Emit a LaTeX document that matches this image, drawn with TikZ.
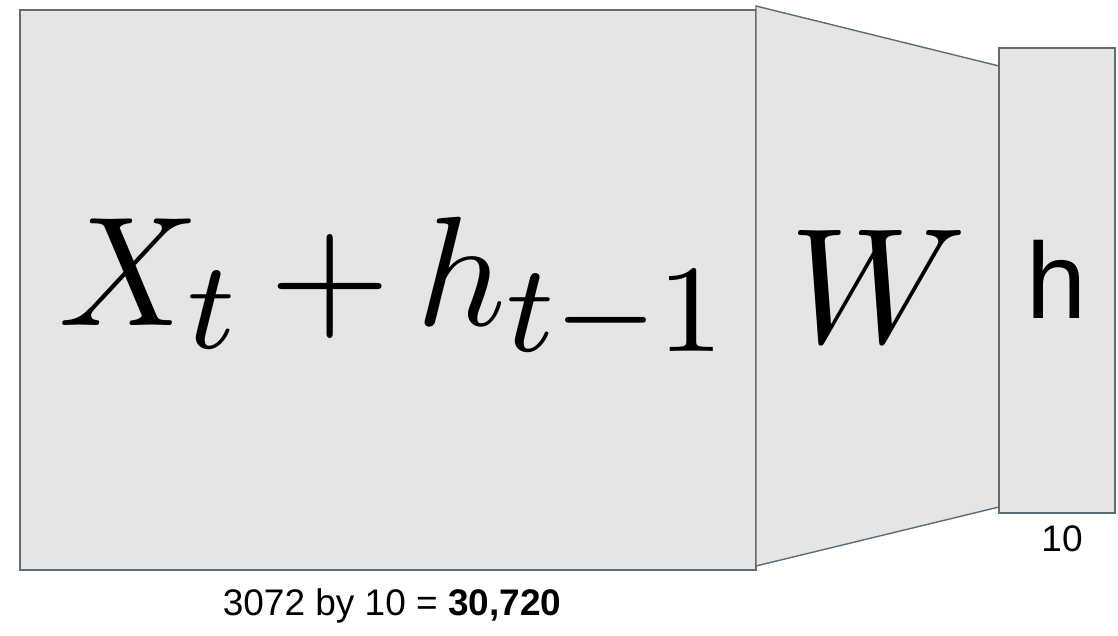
\documentclass[tikz,border=0pt]{standalone}
\usepackage{fontspec}
\setmainfont{Liberation Sans}
\DeclareMathSizes{10}{10}{8}{6}
\definecolor{Slab}{HTML}{E5E5E5}
\definecolor{Edge}{HTML}{5F6B75}
\tikzset{
  slab/.style={draw=Edge,fill=Slab,line width=1.4pt,line join=miter},
  bigmath/.style={anchor=base,inner sep=0pt},
  bigsans/.style={font=\fontsize{108}{108}\selectfont,anchor=base,inner sep=0pt},
  caption/.style={font=\fontsize{37}{37}\selectfont,anchor=base,inner sep=0pt}
}
\begin{document}
\begin{tikzpicture}[x=1pt,y=-1pt]
      \useasboundingbox (0,0) rectangle (1118,636);
      % input block, weights, output
      \coordinate (inNW) at (20,10);
      \coordinate (inSE) at (756,570);
      \draw[slab] (inNW) rectangle (inSE);
      \draw[slab] (756,6) -- (999,66) -- (999,507) -- (756,566) -- cycle;
      \draw[slab] (999,48) rectangle (1115,513);
      \node[bigmath,scale=15.6] (xin) at (395,325) {\medmuskip=3mu$X_t+h_{t-1}$};
      \node[bigmath,scale=16.4] (wts) at (878,342) {$W$};
      \node[bigsans] (hout) at (1057,318) {h};
      \node[caption] (hdim) at (1062,551) {10};
      \node[caption] (count) at (392,615) {3072 by 10 = \textbf{30,720}};
    \end{tikzpicture}
\end{document}
